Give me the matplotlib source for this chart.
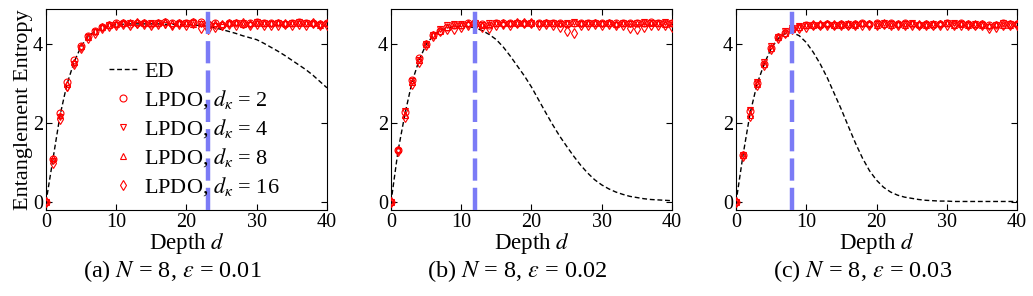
import numpy as np
import matplotlib
matplotlib.use("Agg")
import matplotlib.pyplot as plt

plt.rcParams["font.family"] = ["Liberation Serif", "DejaVu Serif"]
plt.rcParams["mathtext.fontset"] = "stix"

depth = list(range(41))

# panel (a)  N = 8, eps = 0.01
ed_a = [0, 1.1, 2.2, 3.0, 3.55, 3.95, 4.2, 4.33, 4.42, 4.47, 4.5, 4.51, 4.52, 4.52, 4.52, 4.52,
        4.52, 4.51, 4.51, 4.5, 4.5, 4.49, 4.48, 4.46, 4.42, 4.38, 4.33, 4.28, 4.22, 4.17, 4.12,
        4.03, 3.93, 3.83, 3.72, 3.6, 3.48, 3.36, 3.22, 3.06, 2.9]
a_k2 = [0.0, 1.1, 2.25, 3.05, 3.6, 3.95, 4.22, 4.35, 4.45, 4.5, 4.53, 4.55, 4.52, 4.55, 4.53, 4.52,
        4.54, 4.56, 4.53, 4.55, 4.54, 4.56, 4.58, 4.52, 4.55, 4.5, 4.53, 4.55, 4.52, 4.54, 4.56,
        4.55, 4.53, 4.54, 4.52, 4.55, 4.56, 4.53, 4.54, 4.52, 4.53]
a_k4 = [0.0, 1.05, 2.15, 2.9, 3.5, 3.92, 4.18, 4.32, 4.42, 4.48, 4.5, 4.52, 4.53, 4.5, 4.52, 4.55,
        4.53, 4.5, 4.47, 4.52, 4.53, 4.55, 4.52, 4.5, 4.47, 4.45, 4.52, 4.53, 4.55, 4.5, 4.57,
        4.53, 4.52, 4.55, 4.52, 4.53, 4.57, 4.55, 4.52, 4.5, 4.52]
a_k8 = [0.0, 1.12, 2.2, 3.0, 3.55, 3.97, 4.2, 4.35, 4.45, 4.5, 4.52, 4.55, 4.56, 4.58, 4.55, 4.53,
        4.55, 4.57, 4.55, 4.53, 4.55, 4.52, 4.55, 4.5, 4.53, 4.52, 4.55, 4.57, 4.52, 4.53, 4.55,
        4.53, 4.55, 4.56, 4.53, 4.55, 4.53, 4.55, 4.53, 4.5, 4.55]
a_k16 = [0.0, 1.0, 2.1, 2.95, 3.5, 3.9, 4.15, 4.3, 4.42, 4.47, 4.5, 4.52, 4.5, 4.55, 4.52, 4.5,
         4.52, 4.55, 4.5, 4.52, 4.5, 4.53, 4.42, 4.4, 4.45, 4.5, 4.52, 4.5, 4.53, 4.5, 4.52,
         4.5, 4.48, 4.5, 4.52, 4.5, 4.52, 4.5, 4.53, 4.48, 4.5]

# panel (b)  N = 8, eps = 0.02
ed_b = [0, 1.3, 2.25, 3.05, 3.6, 4.0, 4.22, 4.35, 4.42, 4.45, 4.46, 4.45, 4.42, 4.35, 4.25, 4.12,
        3.93, 3.7, 3.45, 3.2, 2.92, 2.6, 2.28, 1.97, 1.68, 1.42, 1.17, 0.94, 0.74, 0.57, 0.44,
        0.34, 0.26, 0.2, 0.15, 0.12, 0.09, 0.07, 0.06, 0.05, 0.04]
b_k2 = [0, 1.32, 2.28, 3.1, 3.65, 4.0, 4.25, 4.35, 4.45, 4.48, 4.5, 4.53, 4.55, 4.52, 4.5, 4.53,
        4.55, 4.53, 4.55, 4.53, 4.55, 4.53, 4.55, 4.53, 4.55, 4.52, 4.55, 4.53, 4.55, 4.53, 4.54,
        4.53, 4.55, 4.53, 4.55, 4.53, 4.55, 4.57, 4.55, 4.53, 4.55]
b_k4 = [0, 1.3, 2.3, 3.08, 3.6, 4.0, 4.23, 4.38, 4.48, 4.52, 4.52, 4.5, 4.53, 4.5, 4.55, 4.55,
        4.5, 4.52, 4.53, 4.52, 4.53, 4.52, 4.55, 4.53, 4.52, 4.55, 4.57, 4.52, 4.55, 4.53, 4.52,
        4.53, 4.5, 4.53, 4.52, 4.55, 4.57, 4.53, 4.55, 4.57, 4.55]
b_k8 = [0, 1.35, 2.2, 3.05, 3.6, 4.0, 4.25, 4.35, 4.45, 4.5, 4.5, 4.55, 4.53, 4.5, 4.52, 4.53,
        4.55, 4.53, 4.55, 4.53, 4.55, 4.53, 4.53, 4.55, 4.53, 4.55, 4.53, 4.55, 4.53, 4.55, 4.53,
        4.55, 4.52, 4.53, 4.55, 4.53, 4.55, 4.53, 4.55, 4.52, 4.53]
b_k16 = [0, 1.3, 2.15, 3.0, 3.55, 3.98, 4.22, 4.33, 4.38, 4.4, 4.45, 4.48, 4.5, 4.45, 4.42, 4.5,
         4.52, 4.5, 4.53, 4.55, 4.53, 4.5, 4.52, 4.5, 4.45, 4.35, 4.3, 4.48, 4.5, 4.52, 4.5,
         4.52, 4.48, 4.5, 4.42, 4.4, 4.45, 4.5, 4.5, 4.48, 4.45]

# panel (c)  N = 8, eps = 0.03
ed_c = [0, 1.2, 2.25, 3.0, 3.5, 3.9, 4.15, 4.28, 4.3, 4.22, 4.05, 3.8, 3.5, 3.15, 2.75, 2.35,
        1.92, 1.5, 1.12, 0.8, 0.56, 0.38, 0.26, 0.18, 0.13, 0.1, 0.07, 0.05, 0.04, 0.03, 0.03,
        0.02, 0.02, 0.02, 0.02, 0.02, 0.02, 0.02, 0.02, 0.02, 0.02]
c_k2 = [0, 1.2, 2.3, 3.02, 3.5, 3.92, 4.18, 4.3, 4.4, 4.45, 4.48, 4.48, 4.5, 4.52, 4.5, 4.52,
        4.5, 4.52, 4.53, 4.52, 4.53, 4.52, 4.53, 4.52, 4.53, 4.52, 4.5, 4.52, 4.5, 4.52, 4.55,
        4.52, 4.53, 4.52, 4.5, 4.52, 4.48, 4.5, 4.53, 4.52, 4.52]
c_k4 = [0, 1.2, 2.35, 3.05, 3.55, 3.95, 4.2, 4.33, 4.42, 4.47, 4.48, 4.5, 4.5, 4.5, 4.48, 4.5,
        4.52, 4.5, 4.52, 4.5, 4.52, 4.53, 4.52, 4.5, 4.52, 4.53, 4.5, 4.5, 4.52, 4.5, 4.55,
        4.55, 4.52, 4.5, 4.52, 4.5, 4.45, 4.5, 4.55, 4.52, 4.5]
c_k8 = [0, 1.2, 2.2, 3.0, 3.5, 3.9, 4.18, 4.3, 4.4, 4.45, 4.48, 4.5, 4.52, 4.55, 4.5, 4.5,
        4.52, 4.5, 4.55, 4.53, 4.5, 4.52, 4.5, 4.52, 4.5, 4.55, 4.52, 4.5, 4.52, 4.55, 4.53,
        4.5, 4.52, 4.5, 4.52, 4.5, 4.5, 4.52, 4.5, 4.5, 4.53]
c_k16 = [0, 1.18, 2.18, 2.98, 3.48, 3.88, 4.15, 4.28, 4.38, 4.42, 4.45, 4.48, 4.48, 4.5, 4.48, 4.5,
         4.48, 4.5, 4.5, 4.48, 4.5, 4.52, 4.5, 4.48, 4.5, 4.5, 4.48, 4.48, 4.5, 4.5, 4.5,
         4.5, 4.48, 4.5, 4.48, 4.5, 4.42, 4.45, 4.5, 4.48, 4.48]

cut_depths = [23, 12, 8]
captions = [r"(a) $N$ = 8, $\varepsilon$ = 0.01",
            r"(b) $N$ = 8, $\varepsilon$ = 0.02",
            r"(c) $N$ = 8, $\varepsilon$ = 0.03"]
kappas = [2, 4, 8, 16]
markers = ["o", "v", "^", "d"]

panels = [
    (ed_a, [a_k2, a_k4, a_k8, a_k16]),
    (ed_b, [b_k2, b_k4, b_k8, b_k16]),
    (ed_c, [c_k2, c_k4, c_k8, c_k16]),
]

fig, axes = plt.subplots(1, 3, figsize=(10.33, 2.96), dpi=100)
fig.subplots_adjust(left=0.0445, right=0.9845, top=0.970, bottom=0.29, wspace=0.228)

for i, ax in enumerate(axes):
    ed, lpdo = panels[i]
    ax.plot(depth, ed, color="black", lw=1.0, dashes=(3.5, 2), label="ED", zorder=3)
    for vals, m, k in zip(lpdo, markers, kappas):
        ax.plot(depth, vals, ls="none", marker=m, ms=5, mfc="none", mec="red", mew=0.8,
                label=r"LPDO, $d_\kappa$ = %d" % k, zorder=4)
    ax.axvline(cut_depths[i], color="#7b7bf6", lw=3.2, dashes=(5, 1.6), zorder=5)

    ax.set_xlim(0, 40)
    ax.set_ylim(-0.2, 4.9)
    ax.set_xticks([0, 10, 20, 30, 40])
    ax.set_yticks([0, 2, 4])
    ax.tick_params(direction="in", top=True, right=True, labelsize=14.5, length=4, width=0.8,
                   pad=2)
    ax.set_xlabel(r"Depth $d$", fontsize=16.5, labelpad=-1)
    pos = ax.get_position()
    fig.text((pos.x0 + pos.x1) / 2 - 14 / 1033, 0.085, captions[i], ha="center", va="center",
             fontsize=17.5)

axes[0].set_ylabel("Entanglement Entropy", fontsize=16, labelpad=0)
axes[0].legend(loc="upper left", bbox_to_anchor=(0.215, 0.75), frameon=False, fontsize=16,
               handlelength=1.3, handletextpad=0.3, labelspacing=0.28, borderpad=0.1,
               borderaxespad=0)

plt.savefig("out.png", dpi=100)
plt.close()
